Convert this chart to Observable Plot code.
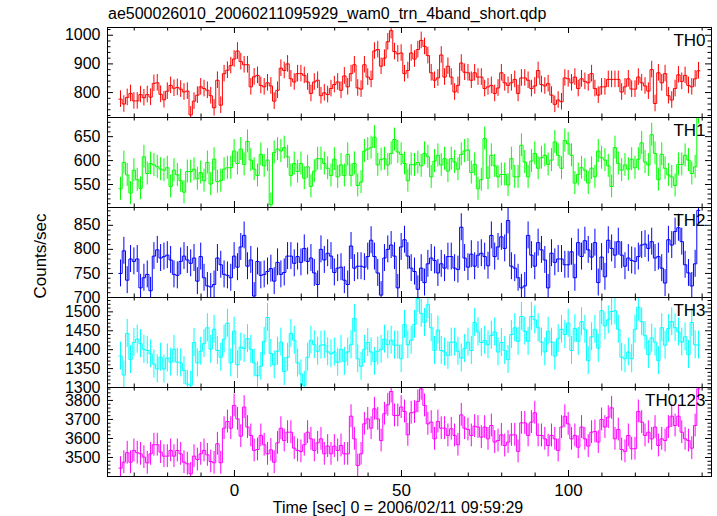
<!DOCTYPE html>
<html><head><meta charset="utf-8">
<script src="https://cdn.jsdelivr.net/npm/d3@7"></script>
<script src="https://cdn.jsdelivr.net/npm/@observablehq/plot@0.6"></script>
<style>
html,body{margin:0;padding:0;background:#fff;}
#chart{position:relative;width:717px;height:516px;overflow:hidden;font-family:"Liberation Sans",Arial,Helvetica,sans-serif;}
#chart svg{position:absolute;left:0;}
</style></head><body><div id="chart"></div>
<script>
const FONT = '"Liberation Sans",Arial,Helvetica,sans-serif';
const titleText = "ae500026010_20060211095929_wam0_trn_4band_short.qdp";
const xLabelText = "Time [sec] 0 = 2006/02/11 09:59:29";
const yLabelText = "Counts/sec";

const T0 = -34.6;      // start of first time bin (sec)
const BIN = 1;         // bin width (sec)
const xDomain = [-38, 142.8];
const xMajorTicks = [0, 50, 100];

const panelLabels = ["TH0", "TH1", "TH2", "TH3", "TH0123"];
const colors = ["#ff0000", "#00ff00", "#0000ff", "#00ffff", "#ff00ff"];
const yDomains = [[713, 1027], [502, 690], [700, 887], [1300, 1538], [3400, 3868]];
const yTickLabels = [[800, 900, 1000], [550, 600, 650], [700, 750, 800, 850], [1300, 1350, 1400, 1450, 1500], [3500, 3600, 3700, 3800]];
const yMajorStep = [100, 50, 50, 50, 100];
const yMinorStep = [20, 10, 10, 10, 20];
const errors = [29, 24, 28, 37, 60];

const th0 = [777,760,783,797,771,771,793,782,793,784,
832,834,794,775,805,825,815,818,812,802,
805,722,770,791,820,814,808,789,747,843,
756,866,878,894,917,945,908,897,897,820,
855,860,825,820,834,823,770,808,885,877,
900,848,837,866,866,860,837,797,837,843,
789,799,793,814,828,837,808,858,820,866,
897,816,812,897,854,846,945,950,892,920,
977,1016,943,935,938,866,877,938,917,
950,982,961,929,869,843,851,931,854,892,
854,802,825,903,871,869,843,869,854,854,
814,820,825,797,816,869,834,825,834,846,
797,851,851,843,814,823,877,828,823,831,
791,759,774,768,851,848,834,854,814,848,
839,834,866,814,791,820,820,846,846,846,
846,802,820,848,812,812,854,834,823,805,
880,762,869,834,866,789,774,814,862,839,
860,825,820,848,876];

const th1 = [541,596,570,532,580,560,542,608,573,594,
591,587,582,580,585,546,580,570,558,534,
577,577,582,562,575,558,596,551,603,556,
558,582,585,585,620,594,624,592,640,601,
582,569,613,589,601,508,617,624,620,627,
608,569,594,577,594,563,587,546,578,604,
604,594,584,569,603,566,591,569,613,569,
594,548,555,620,624,627,649,591,602,604,
591,615,644,618,613,594,558,592,591,
596,589,615,608,566,599,611,591,604,578,
604,597,582,613,620,622,575,592,541,560,
646,563,611,589,566,571,571,549,604,566,
566,632,597,566,599,615,584,606,611,592,
601,639,611,584,642,635,611,553,571,585,
580,553,584,566,620,606,601,589,546,627,
594,580,591,582,603,585,603,637,597,591,
654,615,560,613,584,570,566,548,592,592,
611,601,573,587,700];

const th2 = [750,797,736,780,775,780,720,741,748,714,
786,799,782,785,788,778,748,746,775,786,
778,771,782,734,785,741,724,722,727,782,
768,748,746,741,786,763,805,829,765,778,
703,775,746,748,754,760,734,773,748,752,786,
786,771,785,773,802,775,782,751,727,800,
778,792,786,752,761,763,736,727,807,761,
765,765,763,785,819,785,751,705,782,800,
809,786,720,805,820,786,761,754,717,761,
731,770,782,777,751,770,761,785,785,761,
758,846,782,763,790,765,788,792,785,766,
829,785,805,826,802,860,765,761,741,720,
724,829,788,765,814,799,778,720,792,773,
780,780,768,768,795,741,814,785,818,799,
784,814,731,784,743,819,802,788,816,788,
765,782,777,775,785,809,811,802,816,782,
785,761,730,820,809,837,845,816,768,751,
724,770,881];

const th3 = [1383,1333,1443,1374,1419,1428,1416,1401,1398,1389,
1362,1349,1380,1349,1378,1367,1401,1367,1365,1345,
1309,1306,1419,1365,1396,1416,1458,1401,1454,1398,
1380,1428,1470,1365,1449,1360,1407,1403,1429,1401,
1365,1331,1356,1422,1485,1390,1360,1396,1420,1342,1380,
1443,1425,1365,1336,1306,1380,1425,1413,1396,1412,
1413,1394,1389,1394,1367,1401,1369,1394,1413,1483,
1376,1356,1401,1419,1394,1369,1396,1401,1428,1413,
1425,1412,1412,1376,1467,1413,1425,1467,1535,1496,
1472,1519,1458,1398,1452,1398,1394,1385,1420,1420,
1396,1378,1403,1420,1398,1472,1447,1419,1425,1413,
1438,1447,1394,1419,1398,1374,1440,1458,1422,1488,
1449,1422,1488,1479,1458,1420,1394,1449,1420,1383,
1429,1454,1440,1470,1398,1456,1422,1474,1454,1371,
1434,1454,1404,1503,1463,1479,1501,1503,1454,1380,
1376,1394,1376,1454,1512,1474,1437,1387,1431,1420,
1371,1458,1412,1456,1474,1458,1447,1420,1434,1387,
1472,1413,1412];

const th0123 = [3444,3475,3525,3475,3537,3525,3519,3502,3472,3519,
3567,3567,3528,3507,3507,3537,3507,3537,3519,3475,
3467,3414,3507,3489,3519,3537,3514,3479,3472,3572,
3472,3654,3689,3654,3774,3703,3612,3765,3660,3616,
3537,3542,3616,3567,3519,3540,3475,3577,3654,3589,3633,
3633,3549,3537,3532,3567,3633,3598,3537,3577,3598,
3519,3560,3519,3560,3537,3563,3519,3519,3717,3598,
3458,3519,3677,3703,3654,3756,3703,3589,3730,3777,
3847,3721,3721,3765,3742,3619,3735,3739,3795,3861,
3774,3677,3686,3598,3689,3654,3654,3616,3651,3616,
3567,3724,3654,3647,3616,3665,3660,3607,3660,3598,
3668,3581,3589,3619,3563,3581,3619,3619,3532,3682,
3682,3616,3686,3735,3616,3616,3598,3563,3616,3598,
3537,3660,3717,3677,3598,3616,3554,3660,3598,3560,
3633,3637,3581,3700,3660,3712,3761,3598,3647,3542,
3532,3616,3546,3546,3742,3686,3616,3633,3598,3660,
3563,3598,3589,3660,3717,3668,3717,3633,3598,3589,
3549,3668,3861];

const series = [th0, th1, th2, th3, th0123];
const panelTops = [27, 117, 207, 297, 387];
const panelHeights = [90, 90, 90, 90, 89];
const ML = 107, MR = 6, W = 717;
const innerW = W - ML - MR;

const chart = document.getElementById("chart");

// overlay text
const ov = d3.select(chart).append("svg")
  .attr("width", W).attr("height", 516).style("top", "0px")
  .style("font-family", FONT);
ov.append("text").attr("x", 108).attr("y", 19).attr("font-size", 16).attr("fill", "black").text(titleText);
ov.append("text").attr("x", 398).attr("y", 513).attr("font-size", 16).attr("text-anchor", "middle").attr("fill", "black").text(xLabelText);
ov.append("text").attr("transform", "translate(46,256) rotate(-90)").attr("font-size", 17).attr("text-anchor", "middle").attr("fill", "black").text(yLabelText);

series.forEach((vals, i) => {
  const e = errors[i];
  const rows = vals.map((v, k) => ({x1: T0 + k * BIN, xc: T0 + (k + 0.5) * BIN, y: v, lo: v - e, hi: v + e}));
  const steps = rows.map(r => ({x: r.x1, y: r.y})).concat([{x: T0 + vals.length * BIN, y: vals[vals.length - 1]}]);
  const last = i === series.length - 1;
  const h = panelHeights[i];
  const mb = last ? 40 : 0;
  const [y0, y1] = yDomains[i];
  const mn = yMinorStep[i], mj = yMajorStep[i];
  const yAll = d3.range(Math.ceil(y0 / mn) * mn, y1 + 0.001, mn);
  const yMaj = yAll.filter(v => v % mj === 0);
  const yMin = yAll.filter(v => v % mj !== 0);
  const xAll = d3.range(-30, 141, 10);
  const xMaj = xAll.filter(v => v % 50 === 0);
  const xMin = xAll.filter(v => v % 50 !== 0);
  const tick = {stroke: "black", strokeWidth: 1};
  const marks = [
    Plot.ruleX(rows, {x: "xc", y1: "lo", y2: "hi", stroke: colors[i], strokeWidth: 1, clip: true}),
    Plot.line(steps, {x: "x", y: "y", curve: "step-after", stroke: colors[i], strokeWidth: 1, clip: true}),
    Plot.tickY(yMaj, {y: d => d, insetRight: innerW - 6, ...tick}),
    Plot.tickY(yMin, {y: d => d, insetRight: innerW - 3.5, ...tick}),
    Plot.tickY(yMaj, {y: d => d, insetLeft: innerW - 6, ...tick}),
    Plot.tickY(yMin, {y: d => d, insetLeft: innerW - 3.5, ...tick}),
    Plot.tickX(xMaj, {x: d => d, insetTop: h - 6, ...tick}),
    Plot.tickX(xMin, {x: d => d, insetTop: h - 3.5, ...tick}),
    Plot.tickX(xMaj, {x: d => d, insetBottom: h - 6, ...tick}),
    Plot.tickX(xMin, {x: d => d, insetBottom: h - 3.5, ...tick}),
    Plot.axisY(yTickLabels[i], {tickSize: 0, tickPadding: 7, tickFormat: d => String(d), fontSize: 16}),
    Plot.frame({stroke: "black", strokeWidth: 1}),
    Plot.text([panelLabels[i]], {frameAnchor: "top-right", dx: -6, dy: 6, lineAnchor: "top", textAnchor: "end", fontSize: 17, fill: "black"})
  ];
  if (last) marks.push(Plot.axisX(xMajorTicks, {tickSize: 0, tickPadding: 7, tickFormat: d => String(d), fontSize: 17}));
  const p = Plot.plot({
    width: W, height: h + mb,
    marginTop: 0, marginBottom: mb, marginLeft: ML, marginRight: MR,
    x: {domain: xDomain, axis: last ? undefined : null},
    y: {domain: yDomains[i]},
    style: {background: "transparent", overflow: "visible", fontFamily: FONT, color: "black"},
    marks
  });
  p.style.top = panelTops[i] + "px";
  chart.appendChild(p);
});
</script></body></html>
